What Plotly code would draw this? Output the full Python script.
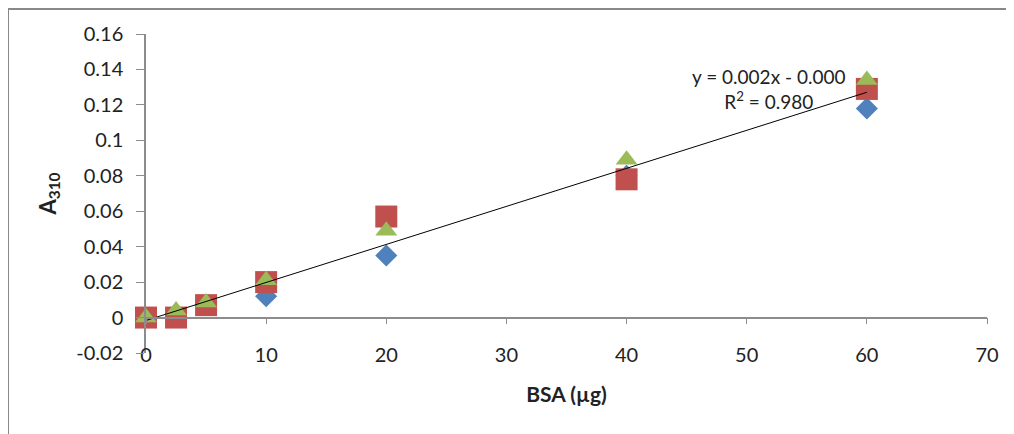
import numpy as np
import plotly.graph_objects as go

# ---- data ----
bsa_ug = [0, 2.5, 5, 10, 20, 40, 60]
series1 = [0.0, 0.002, 0.007, 0.012, 0.035, 0.080, 0.118]   # blue diamonds
series2 = [0.0, 0.0, 0.007, 0.020, 0.057, 0.078, 0.129]     # red squares
series3 = [0.0, 0.004, 0.0085, 0.021, 0.049, 0.089, 0.134]  # green triangles
y_tickvals = [-0.02, 0, 0.02, 0.04, 0.06, 0.08, 0.1, 0.12, 0.14, 0.16]
y_ticktext = ["-0.02", "0", "0.02", "0.04", "0.06", "0.08", "0.1", "0.12", "0.14", "0.16"]
x_tickvals = [0, 10, 20, 30, 40, 50, 60, 70]
eq_text = "y = 0.002x - 0.000<br>R<sup>2</sup> = 0.980"

# trendline from all points
all_x = np.array(bsa_ug * 3, dtype=float)
all_y = np.array(series1 + series2 + series3, dtype=float)
slope, intercept = np.polyfit(all_x, all_y, 1)
trend_x = [min(bsa_ug), max(bsa_ug)]
trend_y = [slope * v + intercept for v in trend_x]

FONT = "Lato, 'Open Sans', sans-serif"
TXT = "#222222"
# page body has an 8px margin, so the figure is sized to fit the window
W, H = 1006, 426
ML, MR, MT, MB = 138, 27, 26, 81
yr = [-0.02, 0.16]
xr = [0, 70]

fig = go.Figure()
fig.add_trace(go.Scatter(x=bsa_ug, y=series1, mode="markers", cliponaxis=False,
                         marker=dict(symbol="diamond", size=17, color="#4F81BD")))
fig.add_trace(go.Scatter(x=bsa_ug, y=series2, mode="markers", cliponaxis=False,
                         marker=dict(symbol="square", size=22, color="#C0504D")))
fig.add_trace(go.Scatter(x=bsa_ug, y=series3, mode="markers", cliponaxis=False,
                         marker=dict(symbol="triangle-up", size=19, color="#9BBB59")))
fig.add_trace(go.Scatter(x=trend_x, y=trend_y, mode="lines", cliponaxis=False,
                         line=dict(color="black", width=1)))

zero_pos = (0 - yr[0]) / (yr[1] - yr[0])
pw = W - ML - MR
ph = H - MT - MB

fig.update_layout(
    width=W, height=H,
    margin=dict(l=ML, r=MR, t=MT, b=MB),
    paper_bgcolor="white", plot_bgcolor="white",
    showlegend=False,
    font=dict(family=FONT, size=20, color=TXT),
    xaxis=dict(range=xr, tickvals=x_tickvals, showgrid=False, zeroline=False,
               showline=True, linecolor="#8C8C8C", linewidth=1.5,
               ticks="outside", ticklen=6, tickcolor="#8C8C8C",
               anchor="free", position=zero_pos, ticklabelstandoff=14,
               tickfont=dict(size=20, color=TXT),
               title=dict(text="<b>BSA (µg)</b>", font=dict(size=21, color=TXT), standoff=21)),
    yaxis=dict(range=yr, tickvals=y_tickvals, ticktext=y_ticktext, showgrid=False, zeroline=False,
               showline=True, linecolor="#8C8C8C", linewidth=1.5,
               ticks="outside", ticklen=8, tickcolor="#8C8C8C", ticklabelstandoff=9,
               tickfont=dict(size=20, color=TXT),
               title=dict(text="<b>A<sub>310</sub></b>", font=dict(size=22, color=TXT), standoff=14)),
    annotations=[dict(x=51.8, y=0.129, xref="x", yref="y", text=eq_text, showarrow=False,
                      align="center", font=dict(size=19, color=TXT))],
    shapes=[dict(type="rect", xref="paper", yref="paper", layer="above",
                 x0=(0 - ML) / pw, x1=(W + 40 - ML) / pw,
                 y0=-(H + 40 - MT - ph) / ph, y1=(H - MB - 1) / ph,
                 line=dict(color="#888888", width=2), fillcolor="rgba(0,0,0,0)")],
)
fig.write_html("out.html")
